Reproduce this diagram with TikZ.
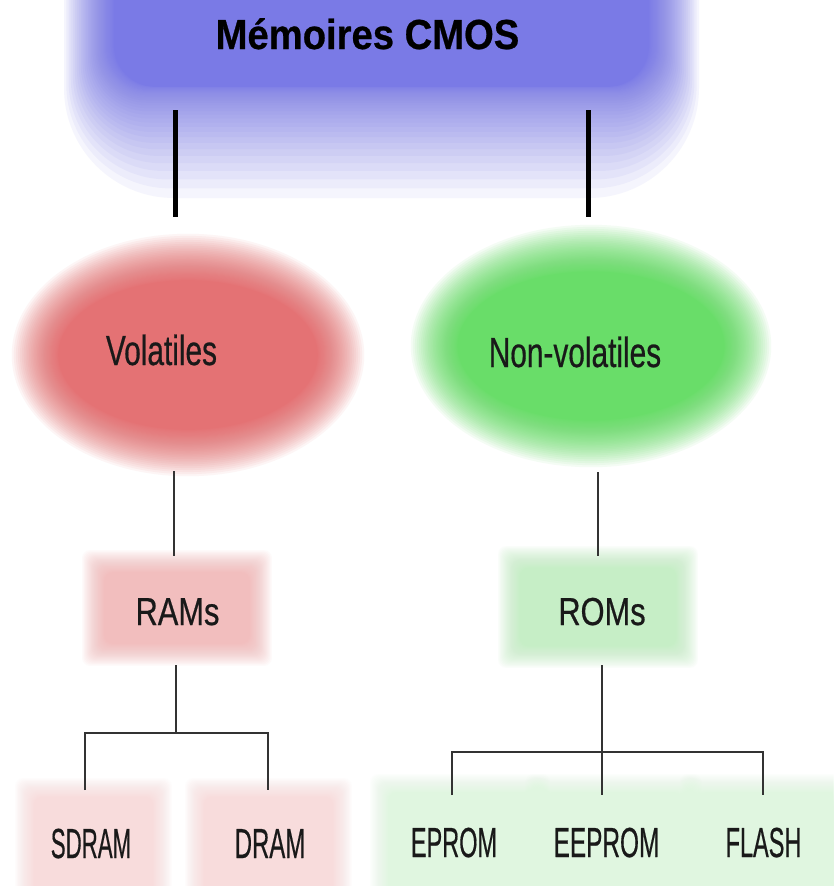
\documentclass[tikz,border=0pt]{standalone}
\usepackage{fontspec}
\setmainfont{Liberation Sans}
\newfontfamily\lblfont{Liberation Sans}[FakeBold=0.6]
\newfontfamily\ttlfont{Liberation Sans Bold}[FakeBold=0.6]
\usepackage{graphicx}
\definecolor{blueM}{RGB}{122,122,230}
\definecolor{redM}{RGB}{228,114,116}
\definecolor{greenM}{RGB}{105,221,105}
\definecolor{redL}{RGB}{242,190,190}
\definecolor{greenL}{RGB}{198,238,198}
\definecolor{redXL}{RGB}{248,220,220}
\definecolor{greenXL}{RGB}{224,246,224}
\newcommand\sq[2]{\scalebox{#1}[1]{#2}}
\newcommand\nlay{45}
% cx, cy, mid half w, mid half h, blur width, colour, corner radius
\newcommand\blurbox[7]{%
  \foreach \k in {0,...,\nlay}{%
    \pgfmathsetmacro\tt{(1-\k/\nlay)^2}%
    \pgfmathsetmacro\ww{#3-0.62*#5+#5*\tt}%
    \pgfmathsetmacro\hh{#4-0.62*#5+#5*\tt}%
    \fill[#6, fill opacity=0.07, rounded corners=#7]
      ({#1-\ww},{#2-\hh}) rectangle ({#1+\ww},{#2+\hh});
  }}
% cx, cy, mid rx, mid ry, blur width, colour
\newcommand\blurell[6]{%
  \foreach \k in {0,...,\nlay}{%
    \pgfmathsetmacro\tt{(1-\k/\nlay)^2}%
    \pgfmathsetmacro\ww{#3-0.62*#5+#5*\tt}%
    \pgfmathsetmacro\hh{#4-0.62*#5+#5*\tt}%
    \fill[#6, fill opacity=0.07] (#1,#2) ellipse [x radius=\ww pt, y radius=\hh pt];
  }}
\tikzset{
  lbl/.style={inner sep=0pt, anchor=base, text=black!90},
  bigtxt/.style={font=\lblfont\fontsize{42}{46}\selectfont},
  midtxt/.style={font=\lblfont\fontsize{39}{43}\selectfont},
  ttl/.style={inner sep=0pt, anchor=base, text=black, font=\ttlfont\fontsize{42}{46}\selectfont},
  heavyconn/.style={line width=5pt, black},
  thinconn/.style={line width=2.5pt, black!80},
}
\begin{document}
\begin{tikzpicture}[x=1pt,y=-1pt]
\useasboundingbox (0,0) rectangle (833,886);
\fill[white] (0,0) rectangle (833,886);

% blue header blob (sides blur, longer fade at the bottom)
\foreach \k in {0,...,\nlay}{%
  \pgfmathsetmacro\tt{(1-\k/\nlay)^2}%
  \pgfmathsetmacro\tb{(1-\k/\nlay)^4}%
  \pgfmathsetmacro\rc{40+70*\tb}%
  \fill[blueM, fill opacity=0.07, rounded corners=\rc pt]
    ({116-52*\tt},-140) rectangle ({647+52*\tt},{86+112*\tb});
}

% ellipses
\blurell{188}{355}{158}{103}{48}{redM}
\blurell{591}{346}{162}{103}{48}{greenM}

% RAMs / ROMs boxes
\blurbox{177}{608}{85}{48}{26}{redL}{8pt}
\blurbox{598}{607}{90}{51}{26}{greenL}{8pt}

% bottom boxes
\blurbox{93.5}{870}{68.5}{82}{26}{redXL}{8pt}
\blurbox{268.5}{870}{73.5}{82}{26}{redXL}{8pt}
\blurbox{460}{868}{80}{84}{26}{greenXL}{8pt}
\blurbox{613.5}{868}{78}{84}{26}{greenXL}{8pt}
\blurbox{770}{868}{80}{84}{26}{greenXL}{8pt}

% texts
\node[ttl] (cmos) at (367.5,49) {\sq{0.91}{Mémoires CMOS}};
\node[lbl, bigtxt] (vol) at (161.5,365) {\sq{0.71}{Volatiles}};
\node[lbl, bigtxt] (nvol) at (575,367) {\sq{0.71}{Non-volatiles}};
\node[lbl, midtxt] (ram) at (177.5,625) {\sq{0.79}{RAMs}};
\node[lbl, midtxt] (rom) at (602,625) {\sq{0.79}{ROMs}};
\node[lbl, bigtxt] (sdram) at (91,858) {\sq{0.53}{SDRAM}};
\node[lbl, bigtxt] (dram) at (270,858) {\sq{0.57}{DRAM}};
\node[lbl, bigtxt] (eprom) at (454,857) {\sq{0.56}{EPROM}};
\node[lbl, bigtxt] (eeprom) at (606.5,857) {\sq{0.58}{EEPROM}};
\node[lbl, bigtxt] (flash) at (763.5,857) {\sq{0.56}{FLASH}};

% connector end points
\coordinate (ta1) at (175.5,110); \coordinate (tb1) at (175.5,217);
\coordinate (ta2) at (588,110);   \coordinate (tb2) at (588,217);
\coordinate (va) at (174,471);    \coordinate (vb) at (174,556);
\coordinate (na) at (598,472);    \coordinate (nb) at (598,556);
\coordinate (r0) at (176,665);    \coordinate (rj) at (176,733);
\coordinate (rl) at (85,733);     \coordinate (rr) at (268,733);
\coordinate (rlb) at (85,790);    \coordinate (rrb) at (268,790);
\coordinate (o0) at (602,665);    \coordinate (oj) at (602,752);
\coordinate (ol) at (452,752);    \coordinate (or) at (763,752);
\coordinate (olb) at (452,795);   \coordinate (omb) at (602,795);
\coordinate (orb) at (763,795);

% connectors
\draw[heavyconn] (ta1) -- (tb1);
\draw[heavyconn] (ta2) -- (tb2);
\draw[thinconn] (va) -- (vb);
\draw[thinconn] (na) -- (nb);
\draw[thinconn] (r0) -- (rj);
\draw[thinconn] (rlb) -- (rl) -- (rr) -- (rrb);
\draw[thinconn] (o0) -- (omb);
\draw[thinconn] (olb) -- (ol) -- (or) -- (orb);
\end{tikzpicture}
\end{document}
